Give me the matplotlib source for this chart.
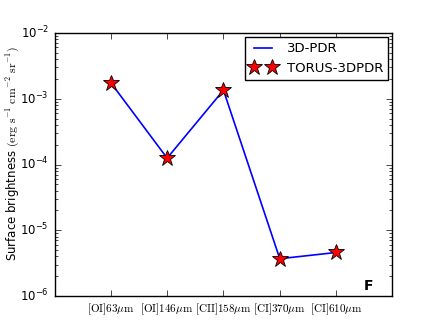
import matplotlib
matplotlib.use('Agg')
from matplotlib import pyplot as plt

plt.style.use('classic')
plt.rcParams['mathtext.fontset'] = 'cm'
plt.rcParams['font.size'] = 9

lines = [r'$\mathrm{[OI]63\mu m}$', r'$\mathrm{[OI]146\mu m}$', r'$\mathrm{[CII]158\mu m}$',
         r'$\mathrm{[CI]370\mu m}$', r'$\mathrm{[CI]610\mu m}$']
pdr_3d = [1.75e-3, 1.25e-4, 1.35e-3, 3.7e-6, 4.6e-6]
torus_3dpdr = [1.75e-3, 1.25e-4, 1.35e-3, 3.7e-6, 4.6e-6]

fig = plt.figure(figsize=(4.36, 3.29), dpi=100, facecolor='white')
ax = fig.add_subplot(111)
x = range(len(lines))
ax.plot(x, pdr_3d, 'b-', lw=1.2, label='3D-PDR')
ax.plot(x, torus_3dpdr, '*', color='red', mec='black', mew=0.6, ms=12,
        linestyle='none', label='TORUS-3DPDR')
ax.set_yscale('log')
ax.set_ylim(1e-6, 1e-2)
ax.set_xlim(-1, 5)
ax.set_xticks(list(x))
ax.set_xticklabels(lines, fontsize=8)
ax.tick_params(axis='y', labelsize=8.5)
ax.set_ylabel(r'Surface brightness $(\mathrm{erg\ s^{-1}\ cm^{-2}\ sr^{-1}})$', fontsize=8.5)
ax.yaxis.set_label_coords(-0.095, 0.54)
ax.text(0.915, 0.025, 'F', transform=ax.transAxes, fontsize=10, fontweight='bold')
ax.legend(loc='upper right', fontsize=9.5, numpoints=2, handlelength=2.0,
          borderaxespad=0.3, fancybox=False)

fig.savefig('out.png', dpi=100, facecolor='white')
